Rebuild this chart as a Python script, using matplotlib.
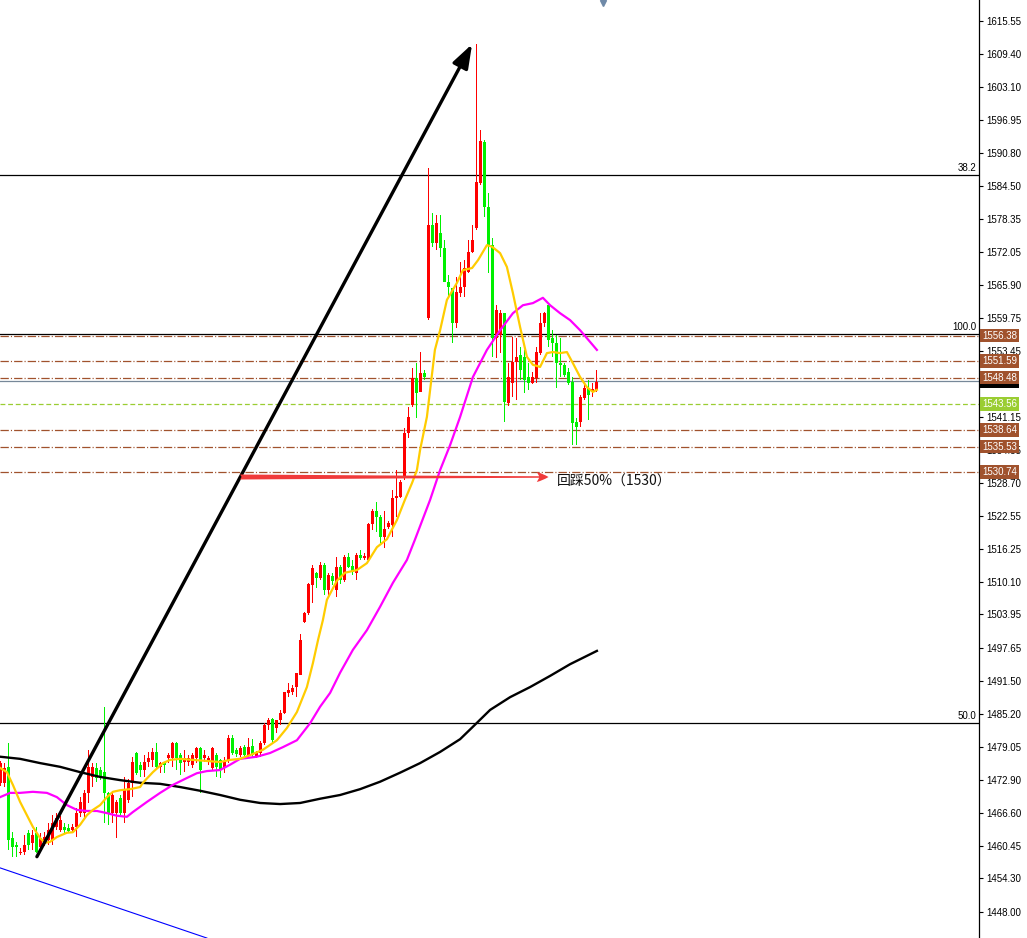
import matplotlib
matplotlib.use("Agg")
import matplotlib.pyplot as plt
from matplotlib.transforms import blended_transform_factory
import numpy as np

plt.rcParams['lines.scale_dashes'] = False

# ---------------- data ----------------
opens = [1472.3, 1472.3, 1475.3, 1462.0, 1460.6, 1459.1, 1459.3, 1462.9, 1461.0, 1462.9,
         1460.3, 1461.0, 1461.6, 1461.6, 1464.0, 1463.5, 1464.0, 1463.8, 1463.5, 1464.0,
         1466.7, 1466.7, 1470.4, 1473.4, 1475.1, 1474.7, 1474.4, 1470.4, 1466.7, 1466.7,
         1469.5, 1466.7, 1469.1, 1472.3, 1477.9, 1475.7, 1474.7, 1476.2, 1476.6, 1478.1,
         1475.3, 1476.2, 1477.0, 1477.0, 1479.8, 1477.6, 1476.2, 1476.2, 1475.7, 1477.0,
         1478.9, 1477.0, 1476.2, 1475.1, 1477.6, 1476.6, 1475.1, 1476.6, 1480.8, 1478.5,
         1477.6, 1479.1, 1477.6, 1479.2, 1477.4, 1477.9, 1479.8, 1483.2, 1484.3, 1482.6,
         1484.1, 1485.5, 1489.2, 1489.4, 1490.3, 1492.6, 1502.6, 1504.3, 1509.5, 1511.8,
         1510.8, 1513.3, 1508.6, 1511.2, 1508.6, 1512.9, 1510.5, 1514.8, 1513.1, 1511.8,
         1515.2, 1514.6, 1514.2, 1521.0, 1523.4, 1522.3, 1518.5, 1520.4, 1520.8, 1525.9,
         1526.1, 1529.6, 1538.1, 1543.4, 1548.4, 1545.8, 1549.4, 1559.7, 1577.2, 1573.8,
         1575.7, 1572.9, 1566.5, 1565.3, 1558.8, 1564.4, 1565.5, 1568.4, 1572.1, 1576.6,
         1585.1, 1592.8, 1580.6, 1573.4, 1555.9, 1556.5, 1560.6, 1543.7, 1547.5, 1551.4,
         1552.7, 1552.4, 1548.6, 1547.5, 1548.4, 1553.1, 1558.8, 1562.1, 1555.9, 1555.0,
         1551.3, 1550.9, 1549.6, 1547.7, 1540.2, 1540.2, 1544.7, 1546.5, 1545.8, 1546.2]
highs = [1476.4, 1476.0, 1479.8, 1463.1, 1461.2, 1460.1, 1462.5, 1463.5, 1463.5, 1464.0,
         1462.8, 1463.0, 1464.8, 1466.3, 1466.7, 1466.0, 1464.8, 1464.5, 1464.6, 1467.6,
         1469.7, 1471.0, 1478.5, 1476.1, 1476.0, 1475.3, 1486.6, 1470.6, 1470.4, 1469.1,
         1470.0, 1473.4, 1473.0, 1477.2, 1478.1, 1476.2, 1477.6, 1478.1, 1478.9, 1479.8,
         1476.2, 1476.3, 1477.9, 1480.0, 1480.0, 1477.9, 1478.5, 1477.6, 1477.9, 1479.0,
         1479.0, 1478.5, 1477.4, 1479.0, 1477.9, 1476.7, 1477.2, 1481.3, 1481.3, 1478.9,
         1479.2, 1479.4, 1480.8, 1480.5, 1478.3, 1480.2, 1483.6, 1484.5, 1484.5, 1484.1,
         1486.0, 1489.4, 1491.1, 1490.7, 1493.0, 1500.3, 1504.4, 1509.9, 1513.3, 1512.0,
         1513.9, 1513.6, 1511.8, 1511.8, 1514.8, 1513.3, 1515.2, 1515.5, 1514.2, 1515.5,
         1516.0, 1515.5, 1521.2, 1523.8, 1525.1, 1522.7, 1523.4, 1521.6, 1527.4, 1531.1,
         1529.2, 1539.0, 1543.0, 1550.3, 1551.3, 1553.3, 1549.9, 1587.9, 1579.4, 1579.1,
         1579.1, 1574.4, 1567.8, 1565.3, 1567.4, 1570.2, 1570.6, 1574.4, 1577.2, 1611.2,
         1595.1, 1593.2, 1583.2, 1574.7, 1562.2, 1561.2, 1560.6, 1551.3, 1556.1, 1555.9,
         1554.3, 1553.7, 1551.3, 1549.5, 1554.3, 1560.7, 1560.8, 1562.2, 1557.5, 1556.5,
         1555.9, 1551.3, 1550.3, 1548.6, 1540.9, 1545.2, 1547.1, 1548.0, 1547.5, 1549.9]
lows = [1471.7, 1471.5, 1459.7, 1458.4, 1458.4, 1458.8, 1458.8, 1459.7, 1459.7, 1459.1,
        1459.5, 1460.5, 1460.6, 1460.6, 1463.5, 1463.0, 1462.9, 1462.8, 1463.0, 1462.1,
        1465.9, 1465.3, 1468.5, 1471.5, 1472.4, 1472.9, 1464.8, 1464.4, 1464.8, 1461.9,
        1466.3, 1464.8, 1468.5, 1469.7, 1473.8, 1473.4, 1473.4, 1475.3, 1475.3, 1474.7,
        1474.2, 1474.2, 1476.1, 1475.3, 1474.7, 1473.8, 1474.4, 1475.5, 1475.1, 1476.1,
        1470.4, 1476.2, 1475.7, 1474.7, 1473.4, 1473.2, 1474.2, 1476.0, 1477.6, 1477.2,
        1477.2, 1477.0, 1477.0, 1477.0, 1477.0, 1477.2, 1479.4, 1482.2, 1479.8, 1481.7,
        1483.2, 1485.3, 1488.5, 1488.8, 1488.5, 1492.6, 1502.4, 1503.9, 1506.1, 1508.9,
        1510.4, 1507.6, 1507.3, 1509.5, 1507.3, 1509.7, 1510.1, 1512.7, 1511.4, 1510.5,
        1514.2, 1514.2, 1513.9, 1519.9, 1519.5, 1517.4, 1516.4, 1520.0, 1518.5, 1522.3,
        1525.9, 1529.2, 1537.2, 1543.0, 1540.9, 1545.8, 1548.0, 1559.3, 1573.1, 1572.5,
        1571.2, 1566.5, 1563.7, 1555.0, 1557.8, 1563.7, 1563.7, 1568.2, 1571.9, 1576.3,
        1584.7, 1578.7, 1568.2, 1552.4, 1552.2, 1553.1, 1540.2, 1543.2, 1544.9, 1544.3,
        1548.0, 1545.6, 1546.2, 1547.3, 1547.5, 1552.7, 1558.0, 1554.3, 1552.4, 1546.5,
        1548.6, 1548.6, 1547.1, 1535.8, 1535.8, 1539.2, 1544.3, 1540.5, 1544.9, 1545.8]
closes = [1476.1, 1475.1, 1461.6, 1460.3, 1460.3, 1459.3, 1460.6, 1460.6, 1462.5, 1459.3,
          1462.0, 1462.1, 1463.5, 1464.8, 1465.7, 1465.3, 1463.5, 1463.3, 1464.0, 1466.7,
          1468.7, 1470.4, 1475.3, 1475.3, 1473.2, 1473.4, 1470.4, 1466.7, 1470.0, 1468.7,
          1466.7, 1471.0, 1472.3, 1476.2, 1474.2, 1474.7, 1476.2, 1477.0, 1478.1, 1475.3,
          1476.1, 1475.7, 1477.6, 1479.8, 1477.0, 1476.1, 1477.0, 1477.0, 1477.6, 1478.9,
          1474.7, 1477.6, 1477.0, 1478.9, 1475.3, 1474.7, 1476.2, 1480.8, 1477.9, 1477.7,
          1478.9, 1477.6, 1479.1, 1477.6, 1477.9, 1479.8, 1483.2, 1484.1, 1480.4, 1484.1,
          1485.5, 1489.4, 1489.8, 1490.1, 1493.0, 1499.2, 1504.3, 1509.7, 1512.7, 1510.8,
          1513.3, 1508.6, 1511.4, 1510.3, 1512.9, 1510.5, 1514.8, 1512.9, 1512.0, 1515.2,
          1514.6, 1515.0, 1521.0, 1523.4, 1522.3, 1518.5, 1520.0, 1521.2, 1525.9, 1526.1,
          1528.9, 1538.1, 1541.1, 1548.4, 1545.6, 1549.4, 1548.6, 1577.2, 1573.8, 1577.6,
          1572.9, 1566.5, 1565.5, 1558.8, 1564.6, 1565.5, 1569.1, 1572.1, 1574.4, 1585.3,
          1593.0, 1580.6, 1573.4, 1555.9, 1561.2, 1560.6, 1543.9, 1548.6, 1551.4, 1552.4,
          1549.9, 1548.0, 1547.5, 1548.6, 1553.3, 1558.8, 1560.6, 1555.6, 1555.0, 1551.3,
          1550.9, 1549.0, 1547.5, 1540.0, 1539.2, 1544.9, 1546.5, 1545.2, 1546.4, 1547.7]

# moving averages (bar index, price)
ma_fast_idx = [-0.1, 1.6, 3.1, 4.9, 6.6, 8.1, 9.9, 11.1, 12.4, 14.1, 16.6, 18.1, 19.9, 21.6, 23.1,
               24.9, 26.6, 28.1, 29.9, 32.4, 34.9, 35.6, 38.1, 40.6, 42.4, 44.9, 48.1, 51.6, 54.9,
               57.4, 59.9, 62.4, 65.6, 69.1, 71.6, 74.1, 76.6, 78.1, 79.4, 80.6, 81.6, 84.1, 86.1,
               89.1, 91.6, 94.1, 96.6, 99.1, 101.1, 102.9, 104.1, 104.9, 106.6, 108.6, 109.9,
               111.6, 114.1, 115.6, 117.9, 119.4, 121.6, 122.9, 124.9, 126.6, 128.1, 129.9,
               131.6, 133.1, 134.9, 136.6, 138.1, 139.9, 141.6, 143.1, 144.9, 146.6, 148.1, 149.1]
ma_fast_val = [1475.1, 1474.3, 1471.9, 1468.7, 1466.2, 1464.0, 1461.9, 1461.0, 1461.2, 1462.1,
               1462.9, 1463.0, 1464.4, 1466.2, 1467.2, 1468.1, 1469.6, 1470.6, 1470.9, 1471.1,
               1471.5, 1472.3, 1474.3, 1476.0, 1476.6, 1476.8, 1476.6, 1476.4, 1476.2, 1476.6,
               1476.8, 1477.5, 1478.5, 1480.3, 1482.6, 1485.6, 1490.3, 1494.8, 1499.2, 1502.9,
               1506.7, 1510.3, 1511.8, 1512.3, 1513.6, 1516.6, 1518.1, 1521.7, 1525.5, 1528.7,
               1531.1, 1534.9, 1541.1, 1553.7, 1557.4, 1563.1, 1566.3, 1568.7, 1569.1, 1570.6,
               1573.4, 1573.1, 1571.9, 1569.3, 1564.4, 1558.0, 1552.4, 1550.9, 1550.5, 1553.1,
               1553.3, 1553.1, 1553.3, 1551.2, 1548.6, 1546.7, 1545.8, 1546.2]
ma_mid_idx = [-0.1, 2.4, 4.9, 8.1, 11.6, 14.1, 16.6, 19.1, 21.6, 24.1, 26.6, 29.1, 31.6, 33.1,
              36.6, 39.9, 43.1, 46.6, 49.1, 51.6, 54.9, 57.4, 59.9, 64.1, 67.4, 70.6, 74.1, 77.4,
              79.9, 82.4, 84.9, 88.1, 91.6, 94.9, 98.1, 101.6, 103.6, 107.4, 109.9, 112.4, 114.9,
              118.1, 121.6, 124.9, 128.1, 130.6, 133.1, 135.6, 137.4, 139.9, 142.4, 144.9,
              147.4, 149.1]
ma_mid_val = [1469.6, 1470.4, 1470.4, 1470.6, 1470.4, 1469.6, 1468.1, 1467.2, 1467.0, 1467.0,
              1466.6, 1466.1, 1465.9, 1466.8, 1468.7, 1470.4, 1471.9, 1473.2, 1474.1, 1474.5,
              1474.7, 1475.7, 1476.8, 1477.2, 1477.9, 1479.0, 1480.3, 1483.5, 1486.6, 1489.2,
              1493.0, 1497.3, 1501.0, 1505.4, 1509.9, 1514.2, 1518.0, 1525.5, 1531.1, 1535.8,
              1541.1, 1548.6, 1553.7, 1557.4, 1560.6, 1562.1, 1562.5, 1563.5, 1562.1, 1560.6,
              1559.3, 1557.4, 1555.2, 1553.7]
ma_slow_idx = [-0.1, 4.9, 9.9, 14.9, 19.9, 24.9, 29.9, 34.9, 39.9, 44.9, 49.9, 54.9, 59.9, 64.9,
               69.9, 74.9, 79.9, 84.9, 89.9, 94.9, 99.9, 104.9, 109.9, 114.9, 118.6, 122.4, 127.4,
               132.4, 137.4, 142.4, 149.1]
ma_slow_val = [1477.2, 1476.8, 1476.0, 1475.3, 1474.3, 1473.4, 1472.8, 1472.3, 1472.1, 1471.5,
               1470.8, 1470.0, 1469.1, 1468.5, 1468.3, 1468.5, 1469.3, 1470.0, 1471.1, 1472.5,
               1474.2, 1476.0, 1478.1, 1480.5, 1483.2, 1486.0, 1488.4, 1490.3, 1492.4, 1494.6,
               1497.1]

# horizontal levels
fib_levels = [1586.6, 1556.65, 1483.5]
fib_labels = ["38.2", "100.0", "50.0"]
brown_levels = [1556.38, 1551.59, 1548.48, 1538.64, 1535.53, 1530.74]
green_level = 1543.56
bid_price = 1547.77

# drawn objects
trend_arrow_idx = [9.1, 117.9]
trend_arrow_val = [1458.4, 1611.2]
blue_line_idx = [-0.125, 51.6]
blue_line_val = [1456.3, 1443.1]
red_arrow_idx = [59.9, 137.0]
red_arrow_val = 1529.8
note_text = "回踩50%（1530）"
note_idx = 139.1
note_val = 1528.9

tick_values = [1615.55, 1609.40, 1603.10, 1596.95, 1590.80, 1584.50, 1578.35, 1572.05,
               1565.90, 1559.75, 1553.45, 1547.30, 1541.15, 1534.85, 1528.70, 1522.55,
               1516.25, 1510.10, 1503.95, 1497.65, 1491.50, 1485.20, 1479.05, 1472.90,
               1466.60, 1460.45, 1454.30, 1448.00]
hidden_tick_labels = [1547.30]   # fully covered by the price boxes in the original

# ---------------- figure ----------------
W, H = 1027, 938
PLOT_W = 979
fig = plt.figure(figsize=(W / 100, H / 100), dpi=100)
fig.patch.set_facecolor('white')
ax = fig.add_axes([0, 0, PLOT_W / W, 1])
ax.set_facecolor('white')
ax.set_ylim(1443.11, 1619.50)
ax.set_xlim(-0.125, -0.125 + PLOT_W / 4)
for s in ['top', 'left', 'bottom']:
    ax.spines[s].set_visible(False)
ax.spines['right'].set_color('black')
ax.spines['right'].set_linewidth(0.9)
ax.set_xticks([])

LABEL_FONT = 'Liberation Sans'
ax.yaxis.tick_right()
ax.set_yticks(tick_values)
ax.set_yticklabels(["" if v in hidden_tick_labels else f"{v:.2f}" for v in tick_values],
                   fontsize=7, family=LABEL_FONT)
ax.tick_params(axis='y', length=3, width=0.8, pad=2, color='black', labelcolor='black')

# horizontal lines
for lv in fib_levels:
    ax.axhline(lv, color='black', lw=0.9, zorder=1)
for lv in brown_levels:
    ax.axhline(lv, color='#a0522d', lw=0.9, linestyle=(0, (6, 1.5, 0.8, 1.5)), zorder=1)
ax.axhline(green_level, color='#9acd32', lw=0.9, linestyle=(0, (3.5, 2)), zorder=1)
ax.axhline(bid_price, color='#778899', lw=0.9, zorder=1)

trans = blended_transform_factory(ax.transAxes, ax.transData)
for lv, lab in zip(fib_levels, fib_labels):
    ax.text(0.997, lv + 0.35, lab, transform=trans, ha='right', va='bottom',
            fontsize=7, family=LABEL_FONT, color='black')

# candles (red = rising, green = falling): 1 px wicks, 3 px bodies, drawn crisp
x = np.arange(len(opens))
o = np.array(opens); h = np.array(highs); l = np.array(lows); c = np.array(closes)
up = c >= o
cols = np.where(up, '#ff0000', '#00f000')
ax.bar(x, h - l, bottom=l, width=0.3, color=cols, linewidth=0, zorder=2,
       antialiased=False)
body_lo = np.minimum(o, c)
body_h = np.maximum(np.abs(c - o), 0.25)
ax.bar(x, body_h, bottom=body_lo, width=0.65, color=cols, linewidth=0, zorder=2.1,
       antialiased=False)

# moving averages
ax.plot(ma_slow_idx, ma_slow_val, color='black', lw=1.7, zorder=3)
ax.plot(ma_mid_idx, ma_mid_val, color='#ff00ff', lw=1.6, zorder=3)
ax.plot(ma_fast_idx, ma_fast_val, color='#ffcc00', lw=1.6, zorder=3)

# objects
ax.plot(blue_line_idx, blue_line_val, color='#0000ff', lw=0.8, zorder=3)
ax.annotate('', xy=(trend_arrow_idx[1], trend_arrow_val[1]),
            xytext=(trend_arrow_idx[0], trend_arrow_val[0]),
            arrowprops=dict(arrowstyle='-|>,head_length=0.8,head_width=0.28',
                            mutation_scale=18, lw=2.4, color='black',
                            shrinkA=0, shrinkB=0), zorder=4)
ax.annotate('', xy=(red_arrow_idx[1], red_arrow_val),
            xytext=(red_arrow_idx[0], red_arrow_val),
            arrowprops=dict(arrowstyle='fancy,head_length=0.7,head_width=0.6,tail_width=0.3',
                            mutation_scale=12, lw=0, color='#f03a3a',
                            shrinkA=0, shrinkB=0), zorder=4)
ax.text(note_idx, note_val, note_text, ha='left', va='center', fontsize=10,
        family=['Noto Sans CJK SC', 'DejaVu Sans'], color='#111111', zorder=5)

# price label boxes on the right axis
def price_box(val, fc, tc='white', z=6):
    ax.text(1.003, val, f"{val:.2f}", transform=trans, ha='left', va='center',
            fontsize=7, family=LABEL_FONT, color=tc, clip_on=False, zorder=z,
            bbox=dict(boxstyle='square,pad=0.18', fc=fc, ec='none'))

price_box(bid_price, 'black', z=5)
for lv in brown_levels:
    price_box(lv, '#a0522d', z=6)
price_box(green_level, '#9acd32', z=6)

# chart-shift marker at top
ax.plot([150.6], [1619.0], marker='v', color='#6f8aa8', ms=5, clip_on=False, zorder=6)

fig.savefig('out.png', dpi=100, facecolor='white')
